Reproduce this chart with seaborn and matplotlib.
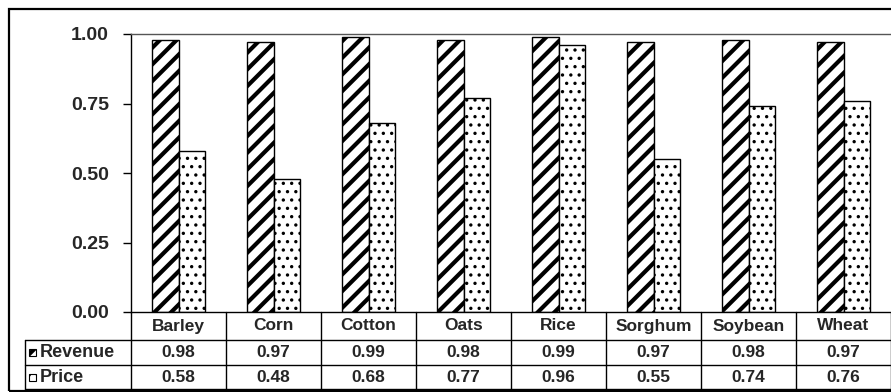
import numpy as np
import pandas as pd
import matplotlib
matplotlib.use("Agg")
import matplotlib.pyplot as plt
import matplotlib.transforms as mtransforms
from matplotlib.patches import Rectangle
import seaborn as sns

crops = ["Barley", "Corn", "Cotton", "Oats", "Rice", "Sorghum", "Soybean", "Wheat"]
revenue = [0.98, 0.97, 0.99, 0.98, 0.99, 0.97, 0.98, 0.97]
price = [0.58, 0.48, 0.68, 0.77, 0.96, 0.55, 0.74, 0.76]
series = ["Revenue", "Price"]
hatches = ["//", ".."]
hatch_lw = [3.0, 1.2]
yticks = [0.00, 0.25, 0.50, 0.75, 1.00]

df = pd.DataFrame({
    "crop": crops * 2,
    "series": ["Revenue"] * len(crops) + ["Price"] * len(crops),
    "value": revenue + price,
})

sns.set_style("white")
plt.rcParams["font.family"] = ["Liberation Sans", "DejaVu Sans"]
plt.rcParams["hatch.color"] = "black"

W, H = 891, 392
fig = plt.figure(figsize=(W / 100, H / 100), dpi=100)
ax = fig.add_axes([131 / W, (H - 312) / H, 760 / W, 278 / H])

sns.barplot(data=df, x="crop", y="value", hue="series", hue_order=series,
            palette=["white", "white"], saturation=1, edgecolor="black",
            linewidth=1, width=0.56, legend=False, ax=ax)
for cont, h, hl in zip(ax.containers, hatches, hatch_lw):
    for bar in cont:
        bar.set_hatch(h)
        if hasattr(bar, "set_hatch_linewidth"):
            bar.set_hatch_linewidth(hl)

ax.set_xlim(-0.5, len(crops) - 0.5)
ax.set_ylim(0, 1)
ax.set_yticks(yticks)
ax.set_yticklabels([f"{v:.2f}" for v in yticks], fontsize=14, fontweight="bold")
ax.set_xticks([])
ax.set_xlabel("")
ax.set_ylabel("")
ax.tick_params(axis="y", left=True, length=6, width=1, pad=10, color="black")
ax.spines["right"].set_visible(False)
for s in ["top", "left", "bottom"]:
    ax.spines[s].set_color("black")
    ax.spines[s].set_linewidth(1)
ax.spines["top"].set_color("#555555")

# data table below the axis
trans = mtransforms.blended_transform_factory(ax.transData, ax.transAxes)
y_cat = -28 / 278
y_rev = -53 / 278
y_bot = -77 / 278
x_lab = (25 - 131) / 760
line_kw = dict(color="black", lw=1, clip_on=False)
for i in range(len(crops) + 1):
    ax.plot([i - 0.5, i - 0.5], [0, y_bot], transform=trans, **line_kw)
for yy in [y_cat, y_rev, y_bot]:
    ax.plot([x_lab, 1.0], [yy, yy], transform=ax.transAxes, **line_kw)
ax.plot([x_lab, x_lab], [y_cat, y_bot], transform=ax.transAxes, **line_kw)

txt_kw = dict(ha="center", va="center", fontweight="bold", clip_on=False)
for i, c in enumerate(crops):
    ax.text(i, y_cat / 2, c, transform=trans, fontsize=12.5, **txt_kw)
    ax.text(i, (y_cat + y_rev) / 2, f"{revenue[i]:.2f}", transform=trans, fontsize=12.5, **txt_kw)
    ax.text(i, (y_rev + y_bot) / 2, f"{price[i]:.2f}", transform=trans, fontsize=12.5, **txt_kw)

rows = [(y_cat + y_rev) / 2, (y_rev + y_bot) / 2]
for yy, name, h, hl in zip(rows, series, hatches, hatch_lw):
    key = Rectangle(((29 - 131) / 760, yy - 3.5 / 278), 7 / 760, 7 / 278,
                    transform=ax.transAxes, facecolor="white",
                    edgecolor="black", lw=0.8, hatch=h, clip_on=False)
    if hasattr(key, "set_hatch_linewidth"):
        key.set_hatch_linewidth(hl)
    ax.add_patch(key)
    ax.text((40 - 131) / 760, yy, name, transform=ax.transAxes,
            ha="left", va="center", fontsize=13, fontweight="bold", clip_on=False)

# outer frame
fig.patches.append(Rectangle((9 / W, 1.5 / H), (W + 10) / W, (H - 10) / H,
                             transform=fig.transFigure, fill=False,
                             edgecolor="black", lw=1.6))

fig.savefig("out.png", dpi=100)
